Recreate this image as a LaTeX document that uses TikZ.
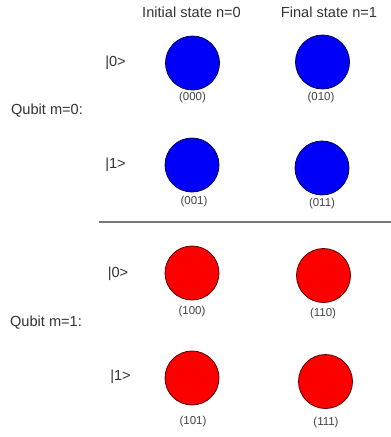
\documentclass[tikz,border=0pt]{standalone}
\usepackage{fontspec}
\setmainfont{Liberation Sans}
\definecolor{txt}{HTML}{333333}
\definecolor{lbl}{HTML}{444444}
\definecolor{bfill}{RGB}{0,0,250}
\definecolor{bline}{HTML}{000050}
\definecolor{rfill}{RGB}{252,0,0}
\definecolor{rline}{HTML}{5A0000}
\definecolor{sep}{HTML}{777777}
\begin{document}
\begin{tikzpicture}[x=1pt,y=-1pt,
  big/.style={inner sep=0pt,text=txt,font=\fontsize{14.6}{16}\selectfont},
  ket/.style={inner sep=0pt,text=txt,font=\fontsize{14.6}{16}\selectfont},
  lab/.style={inner sep=0pt,text=lbl,font=\fontsize{11.5}{13}\selectfont},
  bdot/.style={circle,draw=bline,fill=bfill,line width=0.8pt,minimum size=54pt,inner sep=0pt},
  rdot/.style={circle,draw=rline,fill=rfill,line width=0.8pt,minimum size=54pt,inner sep=0pt}]
\useasboundingbox[fill=white] (0,0) rectangle (391,437);
% headers
\node[big,anchor=base] (hi) at (191.5,17) {Initial state n=0};
\node[big,anchor=base] (hf) at (329,17) {Final state n=1};
% qubit labels
\node[big,anchor=base] (q0) at (47,114) {Qubit m=0:};
\node[big,anchor=base] (q1) at (46,326) {Qubit m=1:};
% kets
\node[ket] (k1) at (115.5,63) {|0>};
\node[ket] (k2) at (115.5,165) {|1>};
\node[ket] (k3) at (118,274) {|0>};
\node[ket] (k4) at (120.5,377) {|1>};
% circles
\node[bdot] (c000) at (192.5,63) {};
\node[bdot] (c010) at (322.5,62) {};
\node[bdot] (c001) at (192,165) {};
\node[bdot] (c011) at (322,168) {};
\node[rdot] (c100) at (192,273) {};
\node[rdot] (c110) at (323.5,275.5) {};
\node[rdot] (c101) at (192,378) {};
\node[rdot] (c111) at (325.5,381.5) {};
% state labels
\node[lab] (l000) at (192.5,98) {(000)};
\node[lab] (l010) at (321,98) {(010)};
\node[lab] (l001) at (194,202) {(001)};
\node[lab] (l011) at (322,204) {(011)};
\node[lab] (l100) at (192,312) {(100)};
\node[lab] (l110) at (323,314) {(110)};
\node[lab] (l101) at (193,422) {(101)};
\node[lab] (l111) at (326,423) {(111)};
% separator
\coordinate (s1) at (99,222);
\coordinate (s2) at (391,222);
\draw[sep,line width=1.4pt] (s1) -- (s2);
\end{tikzpicture}
\end{document}
